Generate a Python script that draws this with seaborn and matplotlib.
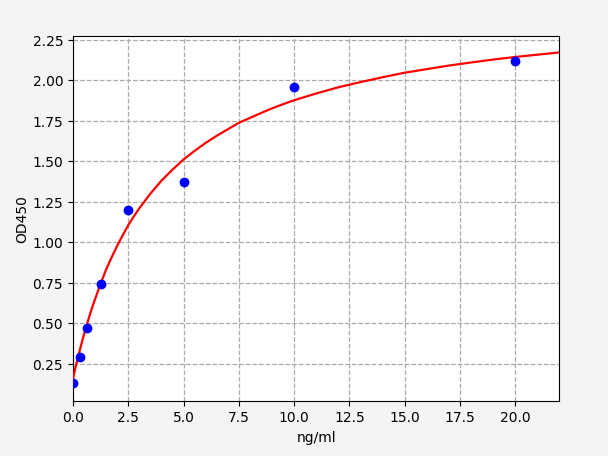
import pandas as pd
import seaborn as sns
import matplotlib
matplotlib.use("Agg")
import matplotlib.pyplot as plt

# standard points (concentration, OD)
conc = [0, 0.3125, 0.625, 1.25, 2.5, 5, 10, 20]
od = [0.131, 0.295, 0.470, 0.742, 1.199, 1.375, 1.956, 2.116]

# fitted curve
curve_x = [0, 0.125, 0.25, 0.375, 0.5, 0.625, 0.75, 0.875, 1.0, 1.25, 1.5,
           1.75, 2.0, 2.25, 2.5, 2.75, 3.0, 3.5, 4.0, 4.5, 5.0, 5.5, 6.0,
           6.5, 7.0, 7.5, 8.0, 8.5, 9.0, 9.5, 10.0, 11.0, 12.0, 13.0, 14.0,
           15.0, 16.0, 17.0, 18.0, 19.0, 20.0, 21.0, 22.0]
curve_y = [0.158, 0.235, 0.305, 0.37, 0.433, 0.491, 0.548, 0.601, 0.65,
           0.745, 0.833, 0.908, 0.979, 1.044, 1.106, 1.16, 1.21, 1.30, 1.38,
           1.448, 1.511, 1.564, 1.613, 1.657, 1.697, 1.737, 1.767, 1.797,
           1.826, 1.852, 1.876, 1.918, 1.956, 1.988, 2.018, 2.046, 2.068,
           2.09, 2.109, 2.127, 2.143, 2.157, 2.171]

points = pd.DataFrame({"ng/ml": conc, "OD450": od})
curve = pd.DataFrame({"ng/ml": curve_x, "OD450": curve_y})

fig, ax = plt.subplots(figsize=(6.08, 4.565), dpi=100)
fig.patch.set_facecolor("#f4f4f4")
fig.subplots_adjust(left=0.12, right=0.92, top=0.921, bottom=0.121)

sns.lineplot(data=curve, x="ng/ml", y="OD450", color="red", linewidth=1.6,
             ax=ax, zorder=3)
sns.scatterplot(data=points, x="ng/ml", y="OD450", color="blue", s=50,
                edgecolor="blue", linewidth=0, ax=ax, zorder=4)

ax.set_xlim(0, 22)
ax.set_ylim(0.0235, 2.275)
ax.set_xticks([0, 2.5, 5, 7.5, 10, 12.5, 15, 17.5, 20])
ax.set_xticklabels(["0.0", "2.5", "5.0", "7.5", "10.0", "12.5", "15.0", "17.5", "20.0"])
ax.set_yticks([0.25, 0.5, 0.75, 1.0, 1.25, 1.5, 1.75, 2.0, 2.25])
ax.set_yticklabels(["0.25", "0.50", "0.75", "1.00", "1.25", "1.50", "1.75", "2.00", "2.25"])
ax.grid(True, linestyle="--", color="#aaaaaa", linewidth=0.9)
ax.set_axisbelow(True)
ax.set_xlabel("ng/ml")
ax.set_ylabel("OD450", labelpad=2)

fig.savefig("out.png", dpi=100, facecolor=fig.get_facecolor())
